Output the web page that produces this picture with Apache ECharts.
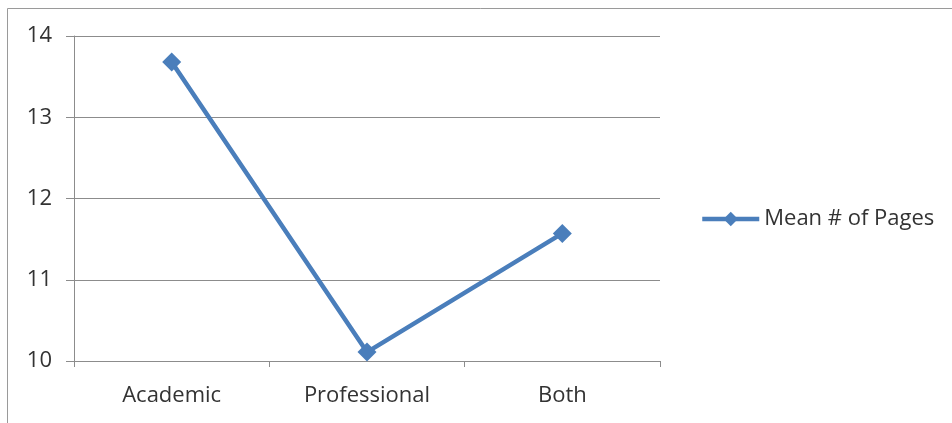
<!DOCTYPE html>
<html>
<head>
<meta charset="utf-8">
<script src="https://cdn.jsdelivr.net/npm/echarts@6/dist/echarts.min.js"></script>
<style>
  html, body { margin: 0; padding: 0; background: #ffffff; }
  #chart { width: 952px; height: 423px; }
</style>
</head>
<body>
<div id="chart"></div>
<script>
// Page types and the mean page count for each
const categories = ['Academic', 'Professional', 'Both'];
const meanPages = [13.68, 10.11, 11.57];
const seriesName = 'Mean # of Pages';
const yTicks = [10, 11, 12, 13, 14];

const blue = '#4a7ebb';
const grey = '#8c8c8c';
const textColor = '#333333';
const font = "'Open Sans', 'Noto Sans', sans-serif";

const chart = echarts.init(document.getElementById('chart'));
chart.setOption({
  animation: false,
  backgroundColor: '#ffffff',
  graphic: [{
    type: 'rect',
    shape: { x: 7.5, y: 8.5, width: 1000, height: 500 },
    style: { fill: 'none', stroke: '#9a9a9a', lineWidth: 1 },
    silent: true
  }],
  grid: { left: 74, right: 292, top: 36, bottom: 62 },
  legend: {
    data: [seriesName],
    orient: 'vertical',
    left: 695,
    top: 203,
    padding: 5,
    itemWidth: 57,
    itemHeight: 18,
    itemGap: 0,
    lineStyle: { width: 4.5 },
    textStyle: { fontFamily: font, fontSize: 22, color: textColor }
  },
  xAxis: {
    type: 'category',
    data: categories,
    boundaryGap: true,
    axisLine: { lineStyle: { color: grey, width: 1 } },
    axisTick: { show: true, length: 6, lineStyle: { color: grey } },
    axisLabel: { fontFamily: font, fontSize: 22, color: textColor, margin: 24 },
    splitLine: { show: false }
  },
  yAxis: {
    type: 'value',
    min: yTicks[0],
    max: yTicks[yTicks.length - 1],
    interval: 1,
    axisLine: { show: true, lineStyle: { color: grey, width: 1 } },
    axisTick: { show: true, length: 8, lineStyle: { color: grey } },
    axisLabel: { fontFamily: font, fontSize: 22, color: textColor, margin: 22 },
    splitLine: { show: true, lineStyle: { color: grey, width: 1 } }
  },
  series: [{
    name: seriesName,
    type: 'line',
    data: meanPages,
    symbol: 'diamond',
    symbolSize: 19,
    lineStyle: { color: blue, width: 4.5 },
    itemStyle: { color: blue },
    z: 3
  }]
});
</script>
</body>
</html>
